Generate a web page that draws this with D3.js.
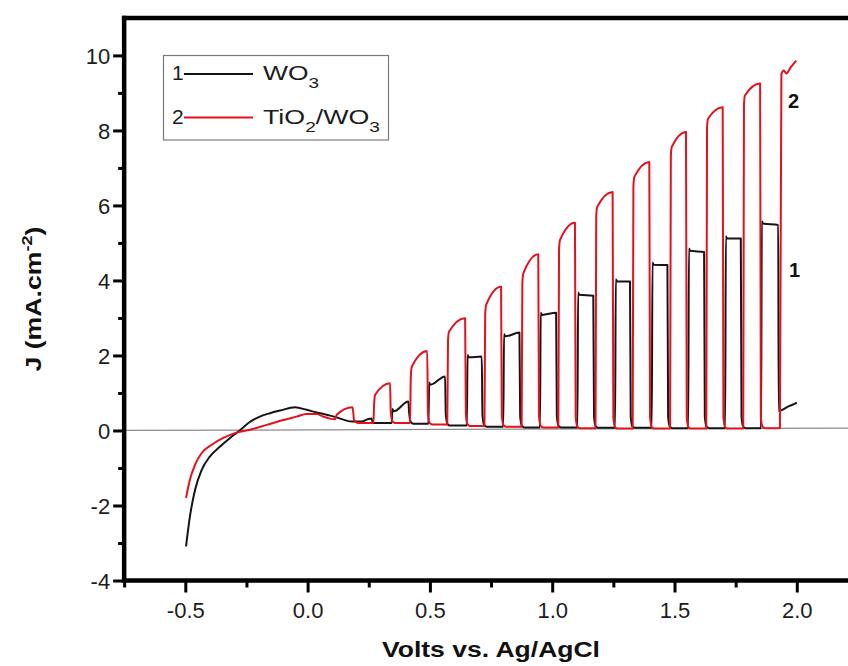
<!DOCTYPE html>
<html>
<head>
<meta charset="utf-8">
<script src="https://cdn.jsdelivr.net/npm/d3@7"></script>
<style>
  html, body { margin: 0; padding: 0; background: #fff; }
  svg { display: block; font-family: "Liberation Sans", Arial, Helvetica, sans-serif; }
</style>
</head>
<body>
<svg id="chart" width="848" height="666"></svg>
<script>
// ---- Data: chopped-light linear sweep, J (mA/cm²) vs V (Ag/AgCl) ----

// Continuous (dark) start of each sweep
const wo3DarkV  = [-0.497, -0.481, -0.460, -0.433, -0.399, -0.358, -0.317, -0.283, -0.242, -0.195, -0.154, -0.113, -0.051, -0.004, 0.037, 0.078, 0.119, 0.180, 0.221, 0.245, 0.262, 0.266];
const wo3DarkJ  = [-3.09, -2.29, -1.58, -1.05, -0.69, -0.43, -0.20, -0.03, 0.20, 0.37, 0.46, 0.53, 0.62, 0.55, 0.48, 0.42, 0.35, 0.24, 0.24, 0.30, 0.32, 0.20];

const tio2DarkV = [-0.497, -0.481, -0.460, -0.433, -0.392, -0.345, -0.297, -0.235, -0.167, -0.099, -0.045, -0.004, 0.037, 0.064, 0.112, 0.119, 0.184, 0.190, 0.205];
const tio2DarkJ = [-1.80, -1.31, -0.91, -0.60, -0.38, -0.20, -0.07, 0.02, 0.15, 0.28, 0.37, 0.44, 0.44, 0.37, 0.30, 0.42, 0.62, 0.28, 0.20];

// Light-on intervals for WO3 (curve 1)
const wo3OnV      = [0.344, 0.494, 0.651, 0.800, 0.950, 1.103, 1.257, 1.407, 1.556, 1.707, 1.854];
const wo3OffV     = [0.412, 0.562, 0.712, 0.866, 1.016, 1.168, 1.318, 1.471, 1.621, 1.771, 1.924];
const wo3TopStart = [0.55, 1.26, 1.99, 2.55, 3.12, 3.66, 4.01, 4.46, 4.83, 5.16, 5.56];
const wo3TopEnd   = [0.77, 1.44, 1.97, 2.61, 3.14, 3.59, 3.97, 4.41, 4.76, 5.12, 5.48];
const wo3Low      = [0.20, 0.18, 0.13, 0.10, 0.08, 0.08, 0.07, 0.07, 0.06, 0.06, 0.06];
const wo3TailV    = [1.926, 1.940, 1.960, 1.980, 2.000];
const wo3TailJ    = [0.52, 0.55, 0.62, 0.68, 0.74];

// Light-on intervals for TiO2/WO3 (curve 2)
const tio2OnV      = [0.269, 0.419, 0.571, 0.723, 0.875, 1.025, 1.177, 1.329, 1.482, 1.630, 1.781, 1.931];
const tio2OffV     = [0.337, 0.489, 0.644, 0.791, 0.943, 1.093, 1.247, 1.397, 1.547, 1.697, 1.850];
const tio2TopStart = [0.95, 1.70, 2.63, 3.35, 4.19, 5.08, 5.96, 6.76, 7.56, 8.31, 8.93];
const tio2TopEnd   = [1.26, 2.12, 2.99, 3.83, 4.70, 5.54, 6.36, 7.16, 7.96, 8.62, 9.25];
const tio2Low      = [0.20, 0.20, 0.16, 0.12, 0.10, 0.08, 0.06, 0.05, 0.05, 0.05, 0.05, 0.06];
const tio2TailV    = [1.937, 1.947, 1.957, 1.975, 1.998];
const tio2TailJ    = [9.50, 9.60, 9.52, 9.68, 9.86];

// Near-zero reference line
const baseV = [-0.75, 2.25];
const baseJ = [0.00, 0.065];

// Axis ticks
const xMajor = [-0.5, 0.0, 0.5, 1.0, 1.5, 2.0];
const xMajorLabels = ["-0.5", "0.0", "0.5", "1.0", "1.5", "2.0"];
const xMinor = [-0.75, -0.25, 0.25, 0.75, 1.25, 1.75];
const yMajor = [-4, -2, 0, 2, 4, 6, 8, 10];
const yMajorLabels = ["-4", "-2", "0", "2", "4", "6", "8", "10"];
const yMinor = [-3, -1, 1, 3, 5, 7, 9];

// ---- Scales ----
const svg = d3.select("#chart");
const x = d3.scaleLinear().domain([-0.75, 2.25]).range([124.15, 857.95]);
const y = d3.scaleLinear().domain([-4, 11]).range([580.5, 17.9]);

const zip = (vs, js) => vs.map((v, i) => [v, js[i]]);

// Build a chopped trace: dark part, then on/off steps with short rise/decay shoulders
function chopped(darkV, darkJ, onV, offV, topS, topE, low, tailV, tailJ, kind) {
  const pts = zip(darkV, darkJ);
  onV.forEach((on, i) => {
    pts.push([on, low[i]]);
    if (i < offV.length) {
      const off = offV[i];
      const after = low[i + 1] !== undefined ? low[i + 1] : low[i];
      if (kind === "red") {
        pts.push([on + 0.003, topS[i] - 0.25]);
        pts.push([on + 0.007, topS[i]]);
      } else {
        pts.push([on + 0.003, topS[i] + 0.02]);
        pts.push([on + 0.008, topS[i] - 0.04]);
      }
      pts.push([off, topE[i]]);
      if (i < onV.length - 1 || kind === "red") {
        pts.push([off + 0.003, after + 0.3]);
        pts.push([off + 0.010, after + 0.04]);
        pts.push([off + 0.020, after]);
      }
    }
  });
  zip(tailV, tailJ).forEach(p => pts.push(p));
  return pts;
}

const wo3Pts = chopped(wo3DarkV, wo3DarkJ, wo3OnV, wo3OffV, wo3TopStart, wo3TopEnd, wo3Low, wo3TailV, wo3TailJ, "black");
const tio2Pts = chopped(tio2DarkV, tio2DarkJ, tio2OnV, tio2OffV, tio2TopStart, tio2TopEnd, tio2Low, tio2TailV, tio2TailJ, "red");

const line = d3.line().x(d => x(d[0])).y(d => y(d[1])).curve(d3.curveMonotoneX);

// Reference line at J ≈ 0
svg.append("path")
  .attr("d", d3.line().x(d => x(d[0])).y(d => y(d[1]))(zip(baseV, baseJ)))
  .attr("fill", "none").attr("stroke", "#8c8c8c").attr("stroke-width", 1.3);

svg.append("path").attr("d", line(wo3Pts))
  .attr("fill", "none").attr("stroke", "#151515").attr("stroke-width", 2)
  .attr("stroke-linejoin", "round");
svg.append("path").attr("d", line(tio2Pts))
  .attr("fill", "none").attr("stroke", "#e3121b").attr("stroke-width", 2)
  .attr("stroke-linejoin", "round");

// ---- Axes ----
const tickW = 3;
const gx = svg.append("g").attr("transform", `translate(0,${y(-4)})`);
gx.call(d3.axisBottom(x).tickValues(xMajor).tickSize(12).tickFormat((d, i) => xMajorLabels[i]));
const gxm = svg.append("g").attr("transform", `translate(0,${y(-4)})`);
gxm.call(d3.axisBottom(x).tickValues(xMinor).tickSize(7).tickFormat(""));

const gy = svg.append("g").attr("transform", `translate(${x(-0.75)},0)`);
gy.call(d3.axisLeft(y).tickValues(yMajor).tickSize(11).tickFormat((d, i) => yMajorLabels[i]));
const gym = svg.append("g").attr("transform", `translate(${x(-0.75)},0)`);
gym.call(d3.axisLeft(y).tickValues(yMinor).tickSize(6).tickFormat(""));

[gx, gxm, gy, gym].forEach(g => {
  g.select(".domain").remove();
  g.selectAll(".tick line").attr("stroke", "#000").attr("stroke-width", tickW);
});
gx.selectAll(".tick text")
  .attr("y", 37).attr("dy", null)
  .attr("font-size", 22).attr("fill", "#1c1c1c")
  .attr("font-family", "Liberation Sans, Arial, sans-serif");
gy.selectAll(".tick text")
  .attr("x", -14).attr("dy", "0.36em")
  .attr("font-size", 22).attr("fill", "#1c1c1c")
  .attr("font-family", "Liberation Sans, Arial, sans-serif");

// Frame lines (left, bottom, top)
const frame = svg.append("g").attr("stroke", "#000").attr("stroke-width", 4.5).attr("stroke-linecap", "square");
frame.append("line").attr("x1", x(-0.75)).attr("x2", x(-0.75)).attr("y1", y(11)).attr("y2", y(-4));
frame.append("line").attr("x1", x(-0.75)).attr("x2", 870).attr("y1", y(-4)).attr("y2", y(-4));
frame.append("line").attr("x1", x(-0.75)).attr("x2", 870).attr("y1", y(11)).attr("y2", y(11));

// Axis titles
svg.append("text")
  .attr("x", 491).attr("y", 657)
  .attr("text-anchor", "middle").attr("font-size", 22).attr("font-weight", "bold").attr("fill", "#111")
  .attr("textLength", 218).attr("lengthAdjust", "spacingAndGlyphs")
  .text("Volts vs. Ag/AgCl");

const yt = svg.append("text")
  .attr("transform", "translate(41,299) rotate(-90)")
  .attr("text-anchor", "middle").attr("font-size", 22).attr("font-weight", "bold").attr("fill", "#111")
  .attr("textLength", 145).attr("lengthAdjust", "spacingAndGlyphs");
yt.append("tspan").text("J (mA.cm");
yt.append("tspan").attr("font-size", 15).attr("dy", -9).text("-2");
yt.append("tspan").attr("dy", 9).text(")");

// Curve labels
svg.append("text").attr("x", 788).attr("y", 108).attr("font-size", 20).attr("font-weight", "bold").attr("fill", "#111").text("2");
svg.append("text").attr("x", 789).attr("y", 277).attr("font-size", 20).attr("font-weight", "bold").attr("fill", "#111").text("1");

// ---- Legend ----
const legend = svg.append("g");
legend.append("rect")
  .attr("x", 163.5).attr("y", 55.5).attr("width", 225).attr("height", 84.5)
  .attr("fill", "#fff").attr("stroke", "#7a7a7a").attr("stroke-width", 1.2);

const legendItems = [
  { num: "1", color: "#151515", ly: 74, ty: 80, w: 56, parts: [["WO", 0], ["3", 1]] },
  { num: "2", color: "#e3121b", ly: 117.5, ty: 124, w: 117, parts: [["TiO", 0], ["2", 1], ["/WO", 0], ["3", 1]] }
];
legendItems.forEach(it => {
  legend.append("text").attr("x", 172).attr("y", it.ty).attr("font-size", 21).attr("fill", "#1c1c1c").text(it.num);
  legend.append("line").attr("x1", 184).attr("x2", 253).attr("y1", it.ly).attr("y2", it.ly)
    .attr("stroke", it.color).attr("stroke-width", 2);
  const t = legend.append("text").attr("x", 263).attr("y", it.ty).attr("font-size", 21).attr("fill", "#1c1c1c")
    .attr("textLength", it.w).attr("lengthAdjust", "spacingAndGlyphs");
  let sub = false;
  it.parts.forEach(([s, isSub]) => {
    const ts = t.append("tspan").text(s);
    if (isSub && !sub) { ts.attr("font-size", 15).attr("dy", 8); sub = true; }
    else if (!isSub && sub) { ts.attr("dy", -8); sub = false; }
    else if (isSub) { ts.attr("font-size", 15); }
  });
});
</script>
</body>
</html>
